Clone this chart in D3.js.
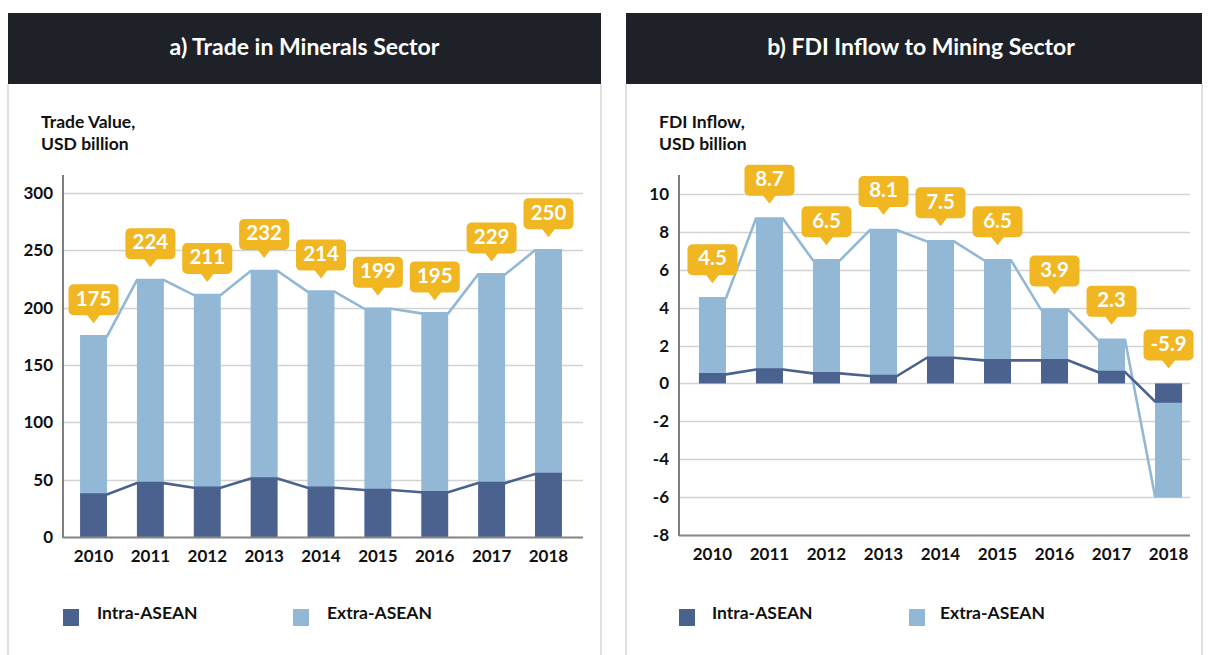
<!DOCTYPE html>
<html>
<head>
<meta charset="utf-8">
<script src="https://cdn.jsdelivr.net/npm/d3@7"></script>
<style>
  body { margin: 0; background: #fff; }
  svg { display: block; font-family: Lato, "Noto Sans", sans-serif; font-weight: 700; }
</style>
</head>
<body>
<svg id="chart" width="1210" height="655"></svg>
<script>
// categories
var years = ["2010", "2011", "2012", "2013", "2014", "2015", "2016", "2017", "2018"];

// a) trade in minerals, USD billion
var tradeIntra = [37, 47, 43, 51, 43, 41, 39, 47, 55];
var tradeExtra = [138, 177, 168, 181, 171, 158, 156, 182, 195];
var tradeLabels = ["175", "224", "211", "232", "214", "199", "195", "229", "250"];
var tradeTicks = [0, 50, 100, 150, 200, 250, 300];

// b) FDI inflow to mining, USD billion
var fdiIntra = [0.48, 0.74, 0.53, 0.39, 1.36, 1.22, 1.22, 0.6, -0.95];
var fdiExtra = [4.02, 7.96, 5.97, 7.71, 6.14, 5.28, 2.68, 1.7, -5.0];
var fdiLabels = ["4.5", "8.7", "6.5", "8.1", "7.5", "6.5", "3.9", "2.3", "-5.9"];
var fdiTicks = [-8, -6, -4, -2, 0, 2, 4, 6, 8, 10];

var seriesNames = ["Intra-ASEAN", "Extra-ASEAN"];
var COLORS = { intra: "#4b628f", extra: "#93b8d5", gold: "#f0b722", head: "#1f2128", grid: "#d3d3d3" };

var svg = d3.select("#chart");

function drawPanel(cfg) {
  var g = svg.append("g");

  // panel frame + header
  g.append("line").attr("x1", cfg.px0).attr("x2", cfg.px0).attr("y1", 84).attr("y2", 655)
    .attr("stroke", "#d6d6d6").attr("stroke-width", 1.5);
  g.append("line").attr("x1", cfg.px1).attr("x2", cfg.px1).attr("y1", 84).attr("y2", 655)
    .attr("stroke", "#d6d6d6").attr("stroke-width", 1.5);
  g.append("rect").attr("x", cfg.px0).attr("y", 13).attr("width", cfg.px1 - cfg.px0).attr("height", 71)
    .attr("fill", COLORS.head);
  g.append("text").attr("x", (cfg.px0 + cfg.px1) / 2 + cfg.titleShift).attr("y", 49).attr("text-anchor", "middle")
    .attr("dominant-baseline", "middle").attr("fill", "#fff").attr("font-size", 23).text(cfg.title);

  // y axis title
  var yt = g.append("text").attr("x", cfg.titleX).attr("font-size", 17.5).attr("fill", "#111");
  yt.append("tspan").attr("x", cfg.titleX).attr("y", 128).text(cfg.yTitle[0]);
  yt.append("tspan").attr("x", cfg.titleX).attr("y", 150).text(cfg.yTitle[1]);

  var x = d3.scaleBand().domain(years).range(cfg.xRange).paddingInner(0.526).paddingOuter(cfg.padOuter);
  var y = d3.scaleLinear().domain(cfg.yDomain).range(cfg.yRange);

  // grid
  g.append("g").selectAll("line").data(cfg.ticks).join("line")
    .attr("x1", cfg.xRange[0]).attr("x2", cfg.gridEnd)
    .attr("y1", function(d) { return Math.round(y(d)) + 0.5; })
    .attr("y2", function(d) { return Math.round(y(d)) + 0.5; })
    .attr("stroke", COLORS.grid).attr("stroke-width", 1.5);

  // y tick labels
  var yAxis = d3.axisLeft(y).tickValues(cfg.ticks).tickSize(0).tickPadding(10)
    .tickFormat(function(d) { return String(d); });
  var ya = g.append("g").attr("transform", "translate(" + cfg.xRange[0] + ",0)").call(yAxis);
  ya.select(".domain").remove();
  ya.selectAll("text").attr("font-size", 17).attr("fill", "#111")
    .attr("font-family", "Lato, sans-serif").attr("font-weight", 700);

  // stacked bars
  var rows = years.map(function(yr, i) { return { year: yr, intra: cfg.intra[i], extra: cfg.extra[i] }; });
  var stack = d3.stack().keys(["intra", "extra"]).offset(d3.stackOffsetDiverging)(rows);
  g.append("g").selectAll("g").data(stack).join("g")
    .attr("fill", function(d) { return d.key === "intra" ? COLORS.intra : COLORS.extra; })
    .selectAll("rect").data(function(d) { return d; }).join("rect")
    .attr("x", function(d) { return x(d.data.year); })
    .attr("width", x.bandwidth())
    .attr("y", function(d) { return y(Math.max(d[0], d[1])); })
    .attr("height", function(d) { return Math.abs(y(d[0]) - y(d[1])); });

  // connecting lines across bar tops
  function stepPoints(vals) {
    var pts = [];
    years.forEach(function(yr, i) {
      pts.push([x(yr), y(vals[i])]);
      pts.push([x(yr) + x.bandwidth(), y(vals[i])]);
    });
    return pts;
  }
  var line = d3.line();
  var totals = rows.map(function(r) { return r.intra + r.extra; });
  g.append("path").attr("d", line(stepPoints(totals))).attr("fill", "none")
    .attr("stroke", COLORS.extra).attr("stroke-width", 2.6);
  g.append("path").attr("d", line(stepPoints(cfg.intra))).attr("fill", "none")
    .attr("stroke", COLORS.intra).attr("stroke-width", 2.6);

  // axis lines
  g.append("line").attr("x1", cfg.xRange[0]).attr("x2", cfg.xRange[0]).attr("y1", 175).attr("y2", y(cfg.yDomain[0]) + 1)
    .attr("stroke", "#555").attr("stroke-width", 1.5);
  g.append("line").attr("x1", cfg.xRange[0]).attr("x2", cfg.gridEnd)
    .attr("y1", y(cfg.yDomain[0]) + 0.5).attr("y2", y(cfg.yDomain[0]) + 0.5)
    .attr("stroke", "#888").attr("stroke-width", 2);

  // year labels
  var xa = g.append("g").attr("transform", "translate(0," + (y(cfg.yDomain[0]) + 10) + ")")
    .call(d3.axisBottom(x).tickSize(0).tickPadding(3));
  xa.select(".domain").remove();
  xa.selectAll("text").attr("font-size", 17).attr("fill", "#111")
    .attr("font-family", "Lato, sans-serif").attr("font-weight", 700);

  // callouts
  var co = g.append("g").selectAll("g").data(rows).join("g")
    .attr("transform", function(d) {
      var cx = x(d.year) + x.bandwidth() / 2;
      var tip = y(Math.max(0, d.intra + d.extra)) - cfg.tipGap;
      return "translate(" + cx + "," + tip + ")";
    });
  co.append("rect").attr("x", -25).attr("y", -39).attr("width", 50).attr("height", 31).attr("rx", 5)
    .attr("fill", COLORS.gold);
  co.append("path").attr("d", "M-7,-9L0,0L7,-9Z").attr("fill", COLORS.gold);
  co.append("text").attr("y", -23).attr("text-anchor", "middle").attr("dominant-baseline", "middle")
    .attr("fill", "#fff").attr("font-size", 20.5).text(function(d, i) { return cfg.labels[i]; });

  // legend
  var lg = g.append("g").attr("transform", "translate(0,609)");
  lg.selectAll("rect").data(seriesNames).join("rect")
    .attr("x", function(d, i) { return cfg.legendX[i]; }).attr("y", 0).attr("width", 16).attr("height", 17)
    .attr("fill", function(d, i) { return i === 0 ? COLORS.intra : COLORS.extra; });
  lg.selectAll("text").data(seriesNames).join("text")
    .attr("x", function(d, i) { return cfg.legendX[i] + cfg.legendGap[i]; }).attr("y", 6)
    .attr("dominant-baseline", "middle").attr("font-size", 17.5).attr("fill", "#111").text(function(d) { return d; });
}

drawPanel({
  title: "a) Trade in Minerals Sector", titleShift: 0, yTitle: ["Trade Value,", "USD billion"], titleX: 41,
  px0: 8, px1: 601, xRange: [63, 579], padOuter: 0.3, gridEnd: 583,
  yDomain: [0, 300], yRange: [537, 193], ticks: tradeTicks,
  intra: tradeIntra, extra: tradeExtra, labels: tradeLabels, tipGap: 13,
  legendX: [63, 293], legendGap: [34, 34]
});

drawPanel({
  title: "b) FDI Inflow to Mining Sector", titleShift: 7, yTitle: ["FDI Inflow,", "USD billion"], titleX: 659,
  px0: 626, px1: 1202, xRange: [679, 1202], padOuter: 0.35, gridEnd: 1190,
  yDomain: [-8, 10], yRange: [535, 194], ticks: fdiTicks,
  intra: fdiIntra, extra: fdiExtra, labels: fdiLabels, tipGap: 15,
  legendX: [679, 909], legendGap: [33, 31]
});
</script>
</body>
</html>
